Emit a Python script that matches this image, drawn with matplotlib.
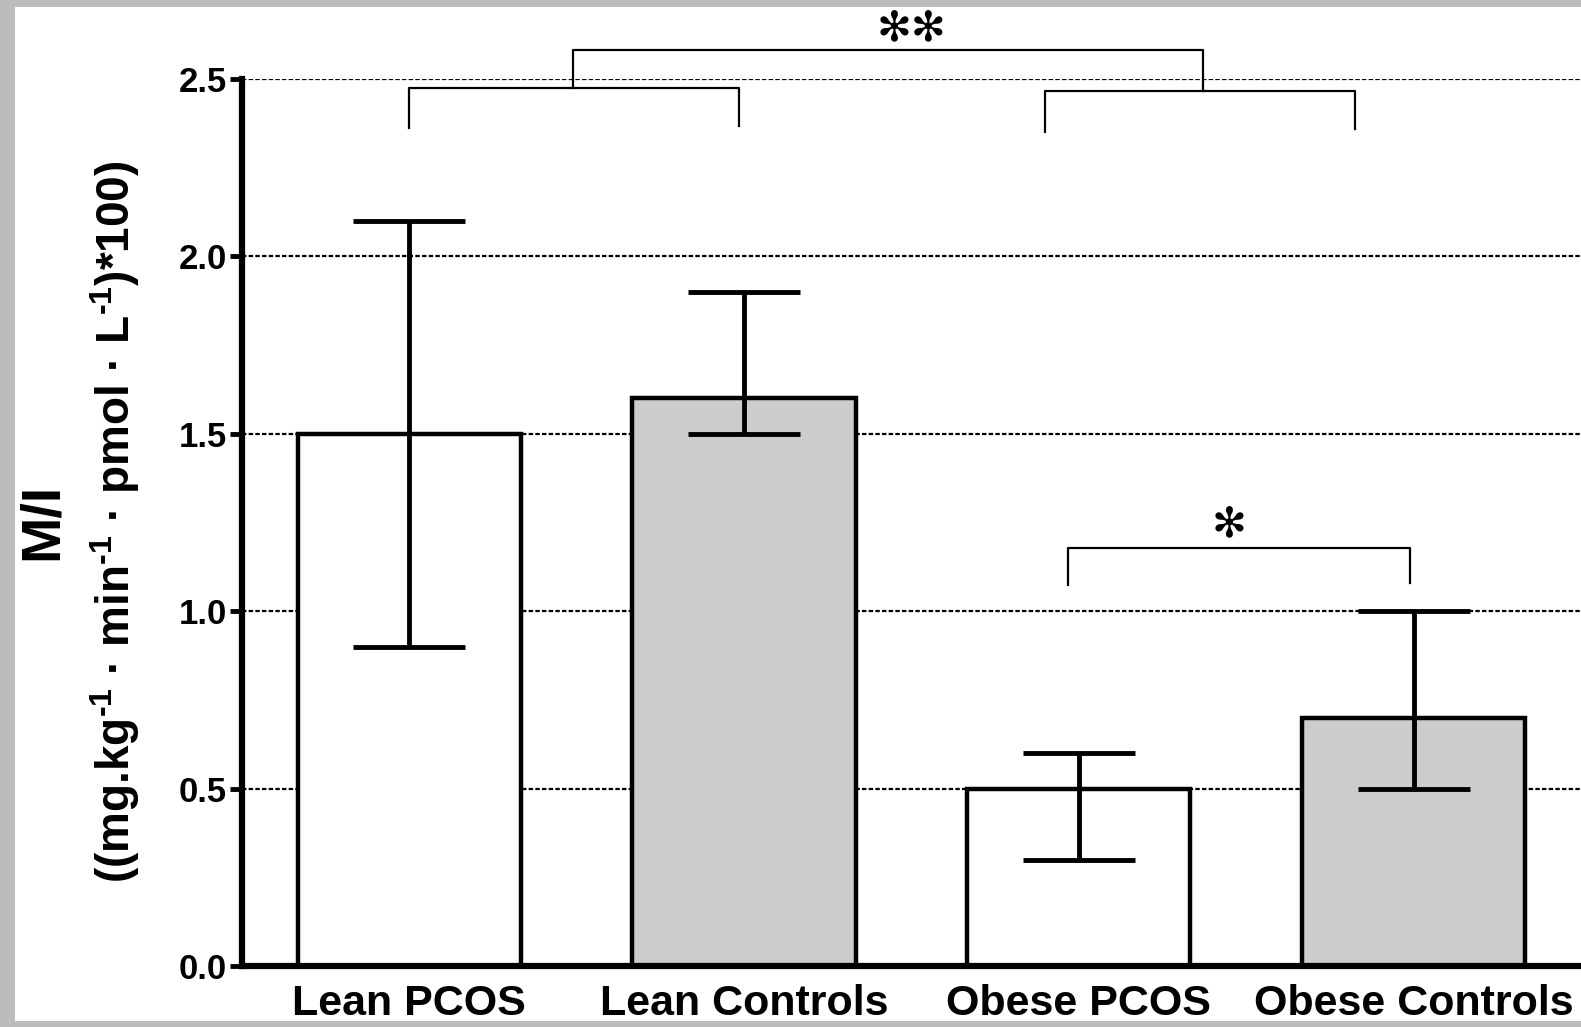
import numpy as np
import matplotlib
matplotlib.use("Agg")
import matplotlib.pyplot as plt
from matplotlib.patches import Rectangle

# Data
groups = ["Lean PCOS", "Lean Controls", "Obese PCOS", "Obese Controls"]
means = [1.5, 1.6, 0.5, 0.7]
err_low = [0.9, 1.5, 0.3, 0.5]
err_high = [2.1, 1.9, 0.6, 1.0]
fills = ["white", "#cccccc", "white", "#cccccc"]
yticks = [0.0, 0.5, 1.0, 1.5, 2.0, 2.5]

plt.rcParams['font.family'] = ['Liberation Sans', 'DejaVu Sans']
plt.rcParams['mathtext.fontset'] = 'custom'
plt.rcParams['mathtext.rm'] = 'Liberation Sans:bold'
plt.rcParams['mathtext.bf'] = 'Liberation Sans:bold'
plt.rcParams['mathtext.default'] = 'bf'

fig = plt.figure(figsize=(15.81, 10.27), dpi=100, facecolor="#bcbcbc")
# white panel inside the grey frame
fig.patches.append(Rectangle((0.0095, 0.006), 0.9905, 0.987, transform=fig.transFigure,
                             facecolor="white", edgecolor="none", zorder=-5))

ax = fig.add_axes([0.153, 0.0594, 0.847, 0.864])
ax.set_facecolor("white")

x = np.arange(len(groups))
ax.bar(x, means, width=0.667, color=fills, edgecolor="black", linewidth=3.2, zorder=2)
yerr = [np.array(means) - np.array(err_low), np.array(err_high) - np.array(means)]
ax.errorbar(x, means, yerr=yerr, fmt="none", ecolor="black", elinewidth=3.5,
            capsize=40.5, capthick=3.5, zorder=3)

ax.set_xlim(-0.5, 3.5)
ax.set_ylim(0, 2.5)
ax.set_yticks(yticks)
ax.set_yticklabels(["%.1f" % t for t in yticks], fontsize=25, fontweight="bold")
ax.set_xticks(x)
ax.set_xticklabels(groups, fontsize=31, fontweight="bold")
ax.tick_params(axis="x", length=0, pad=13)
ax.tick_params(axis="y", length=9, width=3.5, pad=2)
ax.yaxis.grid(True, linestyle=(0, (2, 1)), color="black", linewidth=1.6, zorder=0)
ax.set_axisbelow(True)
for s in ["top", "right"]:
    ax.spines[s].set_visible(False)
ax.spines["left"].set_linewidth(4.5)
ax.spines["bottom"].set_linewidth(4.5)

# significance brackets
def bracket(x0, x1, ytop, yl, yr):
    ax.plot([x0, x0, x1, x1], [yl, ytop, ytop, yr], color="black", lw=1.6,
            clip_on=False, zorder=4)

bracket(0.0, 0.985, 2.474, 2.361, 2.368)
bracket(1.898, 2.826, 2.466, 2.35, 2.358)
bracket(0.49, 2.37, 2.58, 2.474, 2.466)
bracket(1.967, 2.988, 1.179, 1.074, 1.08)
ax.text(1.5, 2.642, "\u273b\u273b", ha="center", va="center", fontsize=30,
        family="DejaVu Sans", clip_on=False)
ax.text(2.45, 1.244, "\u273b", ha="center", va="center", fontsize=30,
        family="DejaVu Sans")

# y axis labels
fig.text(0.0268, 0.492, "M/I", rotation=90, ha="center", va="center",
         fontsize=40, fontweight="bold")
fig.text(0.0725, 0.492,
         r"((mg.kg$^{\text{-1}}$ · min$^{\text{-1}}$ · pmol · L$^{\text{-1}}$)*100)",
         rotation=90, ha="center", va="center", fontsize=33, fontweight="bold")

fig.savefig("out.png", dpi=100, facecolor=fig.get_facecolor())
